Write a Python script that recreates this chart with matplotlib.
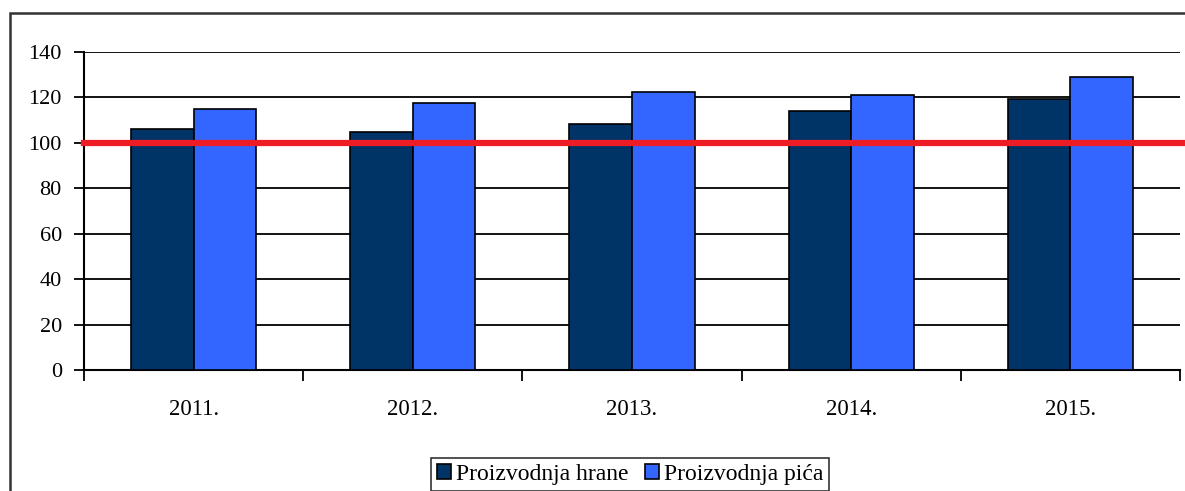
import numpy as np
import matplotlib
matplotlib.use("Agg")
import matplotlib.pyplot as plt
from matplotlib.patches import Rectangle

plt.rcParams["font.family"] = ["Liberation Serif", "DejaVu Serif"]

years = ["2011.", "2012.", "2013.", "2014.", "2015."]
hrana = [106, 105, 108.5, 114, 119.5]
pica = [115, 117.5, 122.5, 121, 129]
reference = 100
series_names = ["Proizvodnja hrane", "Proizvodnja pića"]

W, H = 1185, 491
fig = plt.figure(figsize=(W / 100, H / 100), dpi=100)
ax = fig.add_axes([84 / W, 1 - 370 / H, (1180 - 84) / W, (370 - 52) / H])

x = np.arange(len(years))
bw = 1 / 3.5
ax.bar(x - bw / 2, hrana, bw, color="#003366", edgecolor="black", linewidth=1.2,
       label=series_names[0], zorder=3)
ax.bar(x + bw / 2, pica, bw, color="#3366FF", edgecolor="black", linewidth=1.2,
       label=series_names[1], zorder=3)
ax.axhline(reference, xmin=0, xmax=1.01, color="#EE1C25", linewidth=4.5,
           clip_on=False, zorder=4)

ax.set_xlim(-0.5, len(years) - 0.5)
ax.set_ylim(0, 140)
ax.set_yticks(range(0, 141, 20))
ax.yaxis.grid(True, color="black", linewidth=1.3, zorder=0)
ax.set_axisbelow(True)

ax.set_xticks(x)
ax.set_xticklabels(years, fontsize=16.5)
ax.set_xticks(np.arange(-0.5, len(years), 1), minor=True)
ax.tick_params(axis="x", which="major", length=0, pad=21)
ax.tick_params(axis="x", which="minor", length=8, width=1.3, direction="out")
ax.tick_params(axis="y", length=7, width=1.3, pad=9, labelsize=16)

for s in ["top", "right"]:
    ax.spines[s].set_visible(False)
for s in ["left", "bottom"]:
    ax.spines[s].set_linewidth(1.5)

# outer chart frame (cut off on the right and bottom, as in the original)
fig.patches.append(Rectangle((10 / W, -0.2), 1.2, 1.2 - 13 / H,
                             transform=fig.transFigure, fill=False,
                             edgecolor="#333333", linewidth=1.8))

leg = fig.legend(loc="upper center", bbox_to_anchor=(630 / W, 1 - 446 / H),
                 ncol=2, fontsize=17, frameon=True, fancybox=False,
                 edgecolor="black", handlelength=0.6, handleheight=0.6,
                 handletextpad=0.2, columnspacing=0.7, borderpad=0.25)
leg.get_frame().set_linewidth(1.2)

fig.savefig("out.png", dpi=100)
